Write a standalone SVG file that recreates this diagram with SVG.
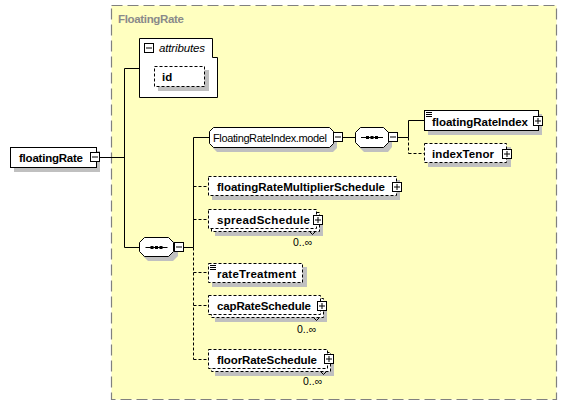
<svg xmlns="http://www.w3.org/2000/svg" width="567" height="406" viewBox="0 0 567 406">
<defs>
<style>
.lbl{font-family:"Liberation Sans",Arial,sans-serif;font-size:11.5px;font-weight:bold;fill:#000}
.reg{font-family:"Liberation Sans",Arial,sans-serif;font-size:11px;fill:#000}
.occ{font-family:"Liberation Sans",Arial,sans-serif;font-size:10.5px;fill:#000}
.box{fill:#fff;stroke:#000;stroke-width:1}
.dbox{fill:#fff;stroke:#000;stroke-width:1;stroke-dasharray:3,2}
.sh{fill:#c0c0c0}
.ln{stroke:#000;stroke-width:1;fill:none}
.dln{stroke:#000;stroke-width:1;fill:none;stroke-dasharray:3,2}
</style>
<g id="minus"><rect x="1" y="1" width="9" height="9" fill="#000"/><rect x="0.5" y="0.5" width="9" height="9" class="box"/><rect x="2" y="4.5" width="6" height="1" fill="#000"/></g>
<g id="plus"><rect x="1" y="1" width="9" height="9" fill="#000"/><rect x="0.5" y="0.5" width="9" height="9" class="box"/><rect x="2" y="4.5" width="6" height="1" fill="#000"/><rect x="4.5" y="2" width="1" height="6" fill="#000"/></g>
<g id="seqsym"><line x1="6" y1="10" x2="28" y2="10" stroke="#000"/><rect x="11" y="8.5" width="3" height="3" fill="#000"/><rect x="15.5" y="8.5" width="3" height="3" fill="#000"/><rect x="20" y="8.5" width="3" height="3" fill="#000"/></g>
<g id="simple"><rect x="2" y="2" width="6" height="1" fill="#000"/><rect x="2" y="4" width="6" height="1" fill="#000"/><rect x="2" y="6" width="6" height="1" fill="#000"/></g>
</defs>

<g id="container">
<rect x="111.5" y="5.5" width="445" height="394" fill="#ffffc0" stroke="#808080" stroke-width="1.2" stroke-dasharray="11,5"/>
<text x="118" y="23" font-family="Liberation Sans,Arial,sans-serif" font-size="11.5" font-weight="bold" fill="#8a8a8a" textLength="66">FloatingRate</text>
</g>

<g id="connectors">
<line x1="100" y1="157.5" x2="124.5" y2="157.5" class="ln"/>
<line x1="124.5" y1="68.5" x2="124.5" y2="247.5" class="ln"/>
<line x1="124.5" y1="68.5" x2="139.5" y2="68.5" class="ln"/>
<line x1="124.5" y1="247.5" x2="139.5" y2="247.5" class="ln"/>
<line x1="184" y1="247.5" x2="193.5" y2="247.5" class="ln"/>
<line x1="193.5" y1="137.5" x2="193.5" y2="247.5" class="ln"/>
<line x1="193.5" y1="247.5" x2="193.5" y2="359.5" class="dln"/>
<line x1="193.5" y1="137.5" x2="209.5" y2="137.5" class="ln"/>
<line x1="193.5" y1="186.5" x2="208.5" y2="186.5" class="dln"/>
<line x1="193.5" y1="219.5" x2="208.5" y2="219.5" class="dln"/>
<line x1="193.5" y1="272.5" x2="208.5" y2="272.5" class="dln"/>
<line x1="193.5" y1="305.5" x2="208.5" y2="305.5" class="dln"/>
<line x1="193.5" y1="359.5" x2="208.5" y2="359.5" class="dln"/>
<line x1="343" y1="137.5" x2="355.5" y2="137.5" class="ln"/>
<line x1="398" y1="137.5" x2="408.5" y2="137.5" class="ln"/>
<line x1="408.5" y1="120.5" x2="408.5" y2="137.5" class="ln"/>
<line x1="408.5" y1="137.5" x2="408.5" y2="153.5" class="dln"/>
<line x1="408.5" y1="120.5" x2="424.5" y2="120.5" class="ln"/>
<line x1="408.5" y1="153.5" x2="424.5" y2="153.5" class="dln"/>
</g>

<g id="floatingRate">
<rect x="14" y="151" width="86" height="21" class="sh"/>
<rect x="10.5" y="147.5" width="86" height="20" class="box"/>
<text x="19" y="162" class="lbl" textLength="64">floatingRate</text>
<use href="#minus" x="90" y="152"/>
</g>

<g id="attributes">
<path d="M139.5,38.5H212.5V57.5H217.5V97.5H139.5Z" class="box"/>
<use href="#minus" x="144" y="43"/>
<text x="159" y="52" font-family="Liberation Sans,Arial,sans-serif" font-size="11.5" font-style="italic" textLength="46">attributes</text>
</g>

<g id="id">
<rect x="158" y="70" width="51" height="21" class="sh"/>
<rect x="154.5" y="66.5" width="50" height="20" class="dbox"/>
<text x="162" y="81" class="lbl">id</text>
</g>

<g id="sequence1">
<polygon points="148,261 173,261 178,256 178,246 173,241 148,241 143,246 143,256" class="sh"/>
<polygon points="144.5,237.5 168.5,237.5 173.5,242.5 173.5,251.5 168.5,256.5 144.5,256.5 139.5,251.5 139.5,242.5" class="box"/>
<use href="#seqsym" x="139.5" y="237.5"/>
<use href="#minus" x="174" y="242"/>
</g>

<g id="FloatingRateIndex.model">
<polygon points="217,131 333,131 337,135 337,148 333,152 217,152 213,148 213,135" class="sh"/>
<polygon points="213.5,127.5 329.5,127.5 333.5,131.5 333.5,143.5 329.5,147.5 213.5,147.5 209.5,143.5 209.5,131.5" class="box"/>
<text x="213" y="141.5" class="reg" textLength="114">FloatingRateIndex.model</text>
<use href="#minus" x="333" y="132"/>
</g>

<g id="sequence2">
<polygon points="364,131 388,131 392,136 392,147 388,152 364,152 359,147 359,136" class="sh"/>
<polygon points="360.5,127.5 383.5,127.5 388.5,132.5 388.5,142.5 383.5,147.5 360.5,147.5 355.5,142.5 355.5,132.5" class="box"/>
<use href="#seqsym" x="355" y="127.5"/>
<use href="#minus" x="388" y="132"/>
</g>

<g id="floatingRateIndex">
<rect x="428" y="114" width="114" height="21" class="sh"/>
<rect x="424.5" y="110.5" width="114" height="20" class="box"/>
<use href="#simple" x="424" y="110"/>
<text x="432" y="125.5" class="lbl" textLength="96">floatingRateIndex</text>
<use href="#plus" x="533" y="116"/>
</g>

<g id="indexTenor">
<rect x="428" y="147" width="83" height="20" class="sh"/>
<rect x="424.5" y="143.5" width="82" height="19" class="dbox"/>
<text x="432" y="158" class="lbl" textLength="62">indexTenor</text>
<use href="#plus" x="502" y="149"/>
</g>

<g id="floatingRateMultiplierSchedule">
<rect x="212" y="180" width="188" height="20" class="sh"/>
<rect x="208.5" y="176.5" width="188" height="19" class="dbox"/>
<text x="217" y="191" class="lbl" textLength="168">floatingRateMultiplierSchedule</text>
<use href="#plus" x="392" y="182"/>
</g>

<g id="spreadSchedule">
<rect x="215" y="216" width="108" height="20" class="sh"/>
<rect x="211.5" y="212.5" width="108" height="19" class="dbox"/>
<rect x="208.5" y="209.5" width="108" height="19" class="dbox"/>
<text x="217" y="223.5" class="lbl" textLength="93">spreadSchedule</text>
<use href="#plus" x="313" y="215"/>
<path d="M309.5,231.5L312.5,234.5L315.5,231.5" class="ln"/>
<text x="293" y="246" class="occ">0..∞</text>
</g>

<g id="rateTreatment">
<rect x="212" y="267" width="95" height="20" class="sh"/>
<rect x="208.5" y="263.5" width="94" height="19" class="dbox"/>
<use href="#simple" x="208" y="263"/>
<text x="217" y="277.5" class="lbl" textLength="79">rateTreatment</text>
</g>

<g id="capRateSchedule">
<rect x="215" y="302" width="112" height="20" class="sh"/>
<rect x="211.5" y="298.5" width="112" height="19" class="dbox"/>
<rect x="208.5" y="295.5" width="112" height="19" class="dbox"/>
<text x="217" y="309.5" class="lbl" textLength="94">capRateSchedule</text>
<use href="#plus" x="317" y="301"/>
<path d="M313.5,317.5L316.5,320.5L319.5,317.5" class="ln"/>
<text x="297" y="333" class="occ">0..∞</text>
</g>

<g id="floorRateSchedule">
<rect x="215" y="356" width="119" height="20" class="sh"/>
<rect x="211.5" y="352.5" width="119" height="19" class="dbox"/>
<rect x="208.5" y="349.5" width="119" height="19" class="dbox"/>
<text x="217" y="363.5" class="lbl" textLength="100">floorRateSchedule</text>
<use href="#plus" x="324" y="354"/>
<path d="M320.5,371.5L323.5,374.5L326.5,371.5" class="ln"/>
<text x="303" y="385" class="occ">0..∞</text>
</g>
</svg>
